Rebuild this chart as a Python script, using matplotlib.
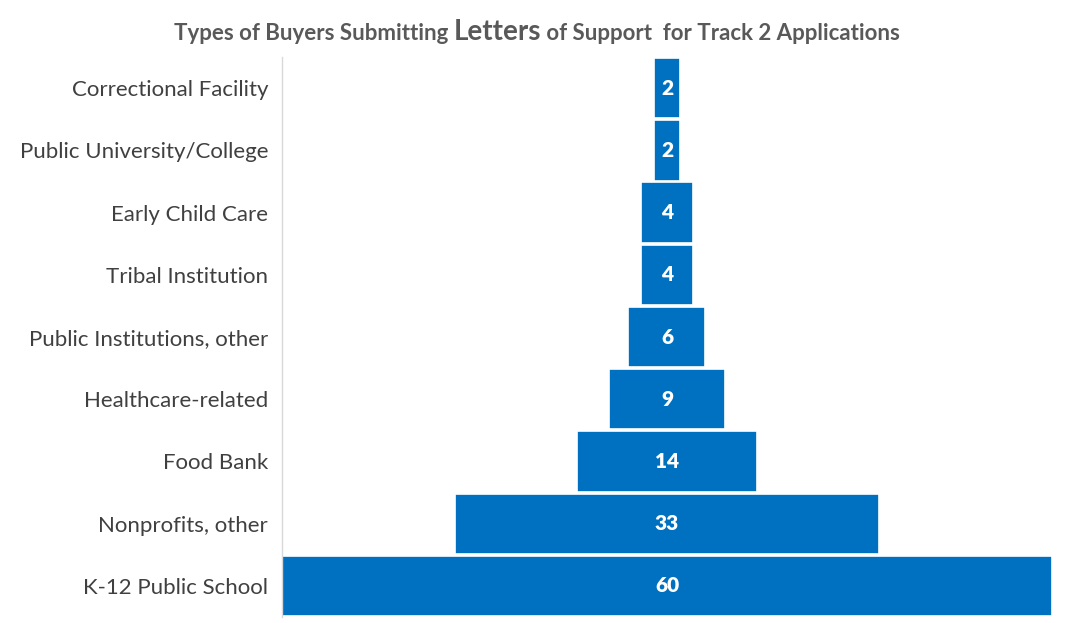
import matplotlib
matplotlib.use('Agg')
import matplotlib.pyplot as plt

categories = ['Correctional Facility', 'Public University/College', 'Early Child Care',
              'Tribal Institution', 'Public Institutions, other', 'Healthcare-related',
              'Food Bank', 'Nonprofits, other', 'K-12 Public School']
counts = [2, 2, 4, 4, 6, 9, 14, 33, 60]

plt.rcParams['font.family'] = ['Lato', 'DejaVu Sans']

fig = plt.figure(figsize=(10.67, 6.23), dpi=100)
ax = fig.add_axes([0.2643, 0.0096, 0.7216, 0.8989])

y = list(range(len(categories)))
lefts = [-c / 2 for c in counts]
ax.barh(y, counts, left=lefts, height=0.97, color='#0070C0', edgecolor='white', linewidth=1.2)

for yi, c in zip(y, counts):
    ax.text(0, yi, str(c), ha='center', va='center', color='white',
            fontsize=15, fontweight='heavy')

ax.set_xlim(-30, 30)
ax.set_ylim(len(categories) - 0.5, -0.5)
ax.set_yticks(y)
ax.set_yticklabels(categories, fontsize=16, color='#404040')
ax.tick_params(axis='y', length=0, pad=10)
ax.set_xticks([])
for s in ['top', 'right', 'bottom']:
    ax.spines[s].set_visible(False)
ax.spines['left'].set_color('#d9d9d9')
ax.spines['left'].set_linewidth(1)

# title with the larger "Letters" word
parts = [('Types of Buyers Submitting ', 16), ('Letters', 20),
         (' of Support  for Track 2 Applications', 16)]
fig.canvas.draw()
renderer = fig.canvas.get_renderer()
texts = []
for s, fs in parts:
    t = fig.text(0, 0, s, fontsize=fs, fontweight='bold', color='#595959',
                 ha='left', va='baseline')
    texts.append(t)
widths = [t.get_window_extent(renderer).width for t in texts]
total = sum(widths)
x0 = 537 - total / 2
for t, w in zip(texts, widths):
    t.set_position((x0 / 1067, 1 - 40 / 623))
    x0 += w

fig.savefig('out.png', dpi=100)
